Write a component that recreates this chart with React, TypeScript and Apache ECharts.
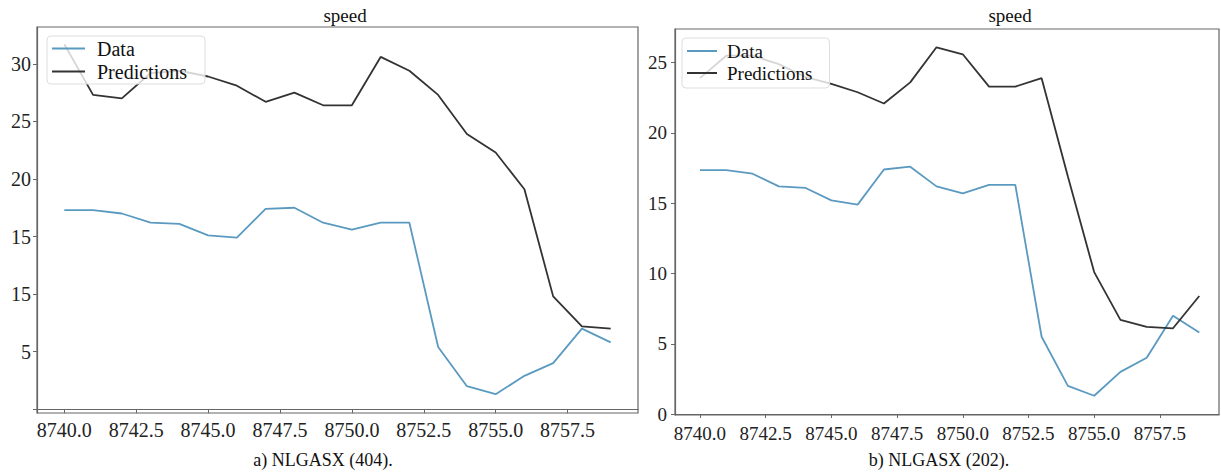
import React, { useEffect, useRef } from "react";
import * as echarts from "echarts";

const xValues = [8740, 8741, 8742, 8743, 8744, 8745, 8746, 8747, 8748, 8749, 8750, 8751, 8752, 8753, 8754, 8755, 8756, 8757, 8758, 8759];

const leftData = [17.3, 17.3, 17.0, 16.2, 16.1, 15.1, 14.9, 17.4, 17.5, 16.2, 15.6, 16.2, 16.2, 5.4, 2.0, 1.3, 2.9, 4.0, 7.0, 5.8];
const leftPred = [31.7, 27.3, 27.0, 29.2, 29.4, 28.9, 28.1, 26.7, 27.5, 26.4, 26.4, 30.6, 29.4, 27.3, 23.9, 22.3, 19.1, 9.8, 7.2, 7.0];

const rightData = [17.35, 17.35, 17.1, 16.2, 16.1, 15.2, 14.9, 17.4, 17.6, 16.2, 15.7, 16.3, 16.3, 5.5, 2.0, 1.3, 3.0, 4.0, 7.0, 5.8];
const rightPred = [23.9, 25.5, 25.5, 24.9, 24.0, 23.5, 22.9, 22.1, 23.6, 26.1, 25.6, 23.3, 23.3, 23.9, 16.9, 10.1, 6.7, 6.2, 6.1, 8.4];

const xTicks = [8740, 8742.5, 8745, 8747.5, 8750, 8752.5, 8755, 8757.5];
const leftYTicks = [0, 5, 10, 15, 20, 25, 30];
const leftYLabels = ["", "5", "15", "15", "20", "25", "30"];
const rightYTicks = [0, 5, 10, 15, 20, 25];
const rightYLabels = ["0", "5", "10", "15", "20", "25"];

const seriesNames = ["Data", "Predictions"];
const titles = ["speed", "speed"];
const captions = ["a) NLGASX (404).", "b) NLGASX (202)."];

const FONT = "Liberation Serif";
const DATA_COLOR = "#5b9ac0";
const PRED_COLOR = "#333333";

const pairs = (ys: number[]) => xValues.map((x, i) => [x, ys[i]]);

export default function App() {
  const ref = useRef<HTMLDivElement>(null);
  useEffect(() => {
    if (!ref.current) return;
    const chart = echarts.init(ref.current, null, { renderer: "svg" });
    const xAxisBase = (gridIndex: number, min: number, max: number, margin: number, size: number) => ({
      type: "value",
      gridIndex,
      min,
      max,
      splitLine: { show: false },
      axisLine: { show: true, lineStyle: { color: "#666", width: 1.2 } },
      axisTick: { show: true, length: 4, lineStyle: { color: "#666" }, customValues: xTicks },
      axisLabel: {
        customValues: xTicks,
        formatter: (v: number) => v.toFixed(1),
        color: "#222",
        fontFamily: FONT,
        fontSize: size,
        margin,
      },
    });
    const yAxisBase = (gridIndex: number, min: number, max: number, ticks: number[], labels: string[], margin: number, size: number) => ({
      type: "value",
      gridIndex,
      min,
      max,
      splitLine: { show: false },
      axisLine: { show: true, lineStyle: { color: "#666", width: 1.2 } },
      axisTick: { show: true, length: 4, lineStyle: { color: "#666" }, customValues: ticks },
      axisLabel: {
        customValues: ticks,
        formatter: (v: number) => {
          const i = ticks.findIndex((t) => Math.abs(t - v) < 1e-6);
          return i >= 0 ? labels[i] : "";
        },
        color: "#222",
        fontFamily: FONT,
        fontSize: size,
        margin,
      },
    });
    const lineSeries = (name: string, ys: number[], idx: number, color: string) => ({
      type: "line",
      name,
      xAxisIndex: idx,
      yAxisIndex: idx,
      data: pairs(ys),
      symbol: "none",
      lineStyle: { color, width: 1.8 },
      itemStyle: { color },
      z: name === "Data" ? 2 : 3,
    });
    const txt = (text: string, x: number, y: number, size: number) => ({
      type: "text",
      x,
      y,
      style: { text, fontFamily: FONT, fontSize: size, fill: "#111", align: "center", verticalAlign: "middle" },
    });
    chart.setOption({
      animation: false,
      backgroundColor: "#ffffff",
      grid: [
        { left: 37, top: 27, width: 601, height: 386, show: true, borderColor: "#666", borderWidth: 1.2, backgroundColor: "transparent" },
        { left: 675, top: 29, width: 544, height: 386, show: true, borderColor: "#666", borderWidth: 1.2, backgroundColor: "transparent" },
      ],
      xAxis: [xAxisBase(0, 8739.05, 8759.95, 7, 20), xAxisBase(1, 8739.05, 8759.75, 9, 19)],
      yAxis: [
        yAxisBase(0, -0.33, 33.2, leftYTicks, leftYLabels, 6, 20),
        yAxisBase(1, -0.07, 27.4, rightYTicks, rightYLabels, 8, 19),
      ],
      legend: [
        {
          orient: "vertical",
          left: 47,
          top: 36,
          data: seriesNames,
          icon: "rect",
          itemWidth: 33,
          itemHeight: 2,
          itemGap: 0,
          padding: [1, 18, 1, 5],
          backgroundColor: "rgba(255,255,255,0.8)",
          borderColor: "#dddddd",
          borderWidth: 1,
          borderRadius: 4,
          selectedMode: false,
          textStyle: { fontFamily: FONT, fontSize: 20, color: "#111", lineHeight: 23, padding: [0, 0, 0, 7] },
        },
        {
          orient: "vertical",
          left: 682,
          top: 38,
          data: seriesNames,
          icon: "rect",
          itemWidth: 30,
          itemHeight: 2,
          itemGap: 0,
          padding: [2, 17, 4, 5],
          backgroundColor: "rgba(255,255,255,0.8)",
          borderColor: "#dddddd",
          borderWidth: 1,
          borderRadius: 4,
          selectedMode: false,
          textStyle: { fontFamily: FONT, fontSize: 19, color: "#111", lineHeight: 22, padding: [0, 0, 0, 5] },
        },
      ],
      series: [
        lineSeries(seriesNames[0], leftData, 0, DATA_COLOR),
        lineSeries(seriesNames[1], leftPred, 0, PRED_COLOR),
        lineSeries(seriesNames[0], rightData, 1, DATA_COLOR),
        lineSeries(seriesNames[1], rightPred, 1, PRED_COLOR),
      ],
      graphic: [
        txt(titles[0], 345, 15, 19),
        txt(titles[1], 1010, 15, 19),
        txt(captions[0], 323, 460, 18),
        txt(captions[1], 939, 460, 18),
      ],
    });
    return () => chart.dispose();
  }, []);
  return <div ref={ref} style={{ position: "absolute", left: 0, top: 0, width: 1221, height: 475 }} />;
}
